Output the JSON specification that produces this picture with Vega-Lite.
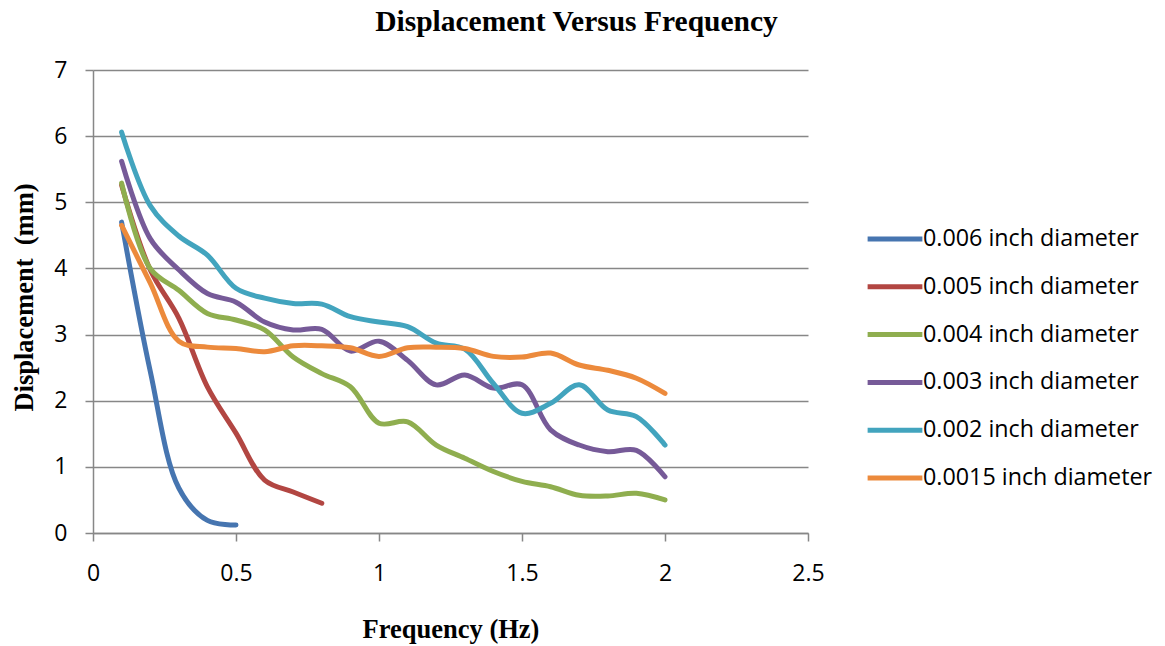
{
  "$schema": "https://vega.github.io/schema/vega-lite/v6.json",
  "width": 715,
  "height": 463,
  "autosize": {"type": "none"},
  "padding": {"left": 93, "top": 70, "right": 357, "bottom": 113},
  "background": "white",
  "title": {
    "text": "Displacement Versus Frequency",
    "font": "Liberation Serif",
    "fontSize": 29.5,
    "fontWeight": "bold",
    "color": "black",
    "anchor": "middle",
    "dx": 126,
    "baseline": "alphabetic",
    "offset": -1
  },
  "datasets": {
    "pts": [
      {"f": 0.1, "d": 4.70, "s": "0.006 inch diameter"},
      {"f": 0.2, "d": 2.45, "s": "0.006 inch diameter"},
      {"f": 0.3, "d": 0.68, "s": "0.006 inch diameter"},
      {"f": 0.4, "d": 0.19, "s": "0.006 inch diameter"},
      {"f": 0.5, "d": 0.12, "s": "0.006 inch diameter"},

      {"f": 0.1, "d": 5.26, "s": "0.005 inch diameter"},
      {"f": 0.2, "d": 3.98, "s": "0.005 inch diameter"},
      {"f": 0.3, "d": 3.25, "s": "0.005 inch diameter"},
      {"f": 0.4, "d": 2.21, "s": "0.005 inch diameter"},
      {"f": 0.5, "d": 1.51, "s": "0.005 inch diameter"},
      {"f": 0.6, "d": 0.80, "s": "0.005 inch diameter"},
      {"f": 0.7, "d": 0.62, "s": "0.005 inch diameter"},
      {"f": 0.8, "d": 0.45, "s": "0.005 inch diameter"},

      {"f": 0.1, "d": 5.29, "s": "0.004 inch diameter"},
      {"f": 0.2, "d": 4.00, "s": "0.004 inch diameter"},
      {"f": 0.3, "d": 3.67, "s": "0.004 inch diameter"},
      {"f": 0.4, "d": 3.32, "s": "0.004 inch diameter"},
      {"f": 0.5, "d": 3.22, "s": "0.004 inch diameter"},
      {"f": 0.6, "d": 3.07, "s": "0.004 inch diameter"},
      {"f": 0.7, "d": 2.66, "s": "0.004 inch diameter"},
      {"f": 0.8, "d": 2.41, "s": "0.004 inch diameter"},
      {"f": 0.9, "d": 2.21, "s": "0.004 inch diameter"},
      {"f": 1.0, "d": 1.66, "s": "0.004 inch diameter"},
      {"f": 1.1, "d": 1.68, "s": "0.004 inch diameter"},
      {"f": 1.2, "d": 1.33, "s": "0.004 inch diameter"},
      {"f": 1.3, "d": 1.13, "s": "0.004 inch diameter"},
      {"f": 1.4, "d": 0.93, "s": "0.004 inch diameter"},
      {"f": 1.5, "d": 0.78, "s": "0.004 inch diameter"},
      {"f": 1.6, "d": 0.70, "s": "0.004 inch diameter"},
      {"f": 1.7, "d": 0.57, "s": "0.004 inch diameter"},
      {"f": 1.8, "d": 0.56, "s": "0.004 inch diameter"},
      {"f": 1.9, "d": 0.60, "s": "0.004 inch diameter"},
      {"f": 2.0, "d": 0.50, "s": "0.004 inch diameter"},

      {"f": 0.1, "d": 5.62, "s": "0.003 inch diameter"},
      {"f": 0.2, "d": 4.45, "s": "0.003 inch diameter"},
      {"f": 0.3, "d": 3.98, "s": "0.003 inch diameter"},
      {"f": 0.4, "d": 3.62, "s": "0.003 inch diameter"},
      {"f": 0.5, "d": 3.49, "s": "0.003 inch diameter"},
      {"f": 0.6, "d": 3.19, "s": "0.003 inch diameter"},
      {"f": 0.7, "d": 3.07, "s": "0.003 inch diameter"},
      {"f": 0.8, "d": 3.08, "s": "0.003 inch diameter"},
      {"f": 0.9, "d": 2.75, "s": "0.003 inch diameter"},
      {"f": 1.0, "d": 2.90, "s": "0.003 inch diameter"},
      {"f": 1.1, "d": 2.61, "s": "0.003 inch diameter"},
      {"f": 1.2, "d": 2.24, "s": "0.003 inch diameter"},
      {"f": 1.3, "d": 2.39, "s": "0.003 inch diameter"},
      {"f": 1.4, "d": 2.19, "s": "0.003 inch diameter"},
      {"f": 1.5, "d": 2.24, "s": "0.003 inch diameter"},
      {"f": 1.6, "d": 1.56, "s": "0.003 inch diameter"},
      {"f": 1.7, "d": 1.33, "s": "0.003 inch diameter"},
      {"f": 1.8, "d": 1.23, "s": "0.003 inch diameter"},
      {"f": 1.9, "d": 1.25, "s": "0.003 inch diameter"},
      {"f": 2.0, "d": 0.85, "s": "0.003 inch diameter"},

      {"f": 0.1, "d": 6.06, "s": "0.002 inch diameter"},
      {"f": 0.2, "d": 4.95, "s": "0.002 inch diameter"},
      {"f": 0.3, "d": 4.49, "s": "0.002 inch diameter"},
      {"f": 0.4, "d": 4.20, "s": "0.002 inch diameter"},
      {"f": 0.5, "d": 3.70, "s": "0.002 inch diameter"},
      {"f": 0.6, "d": 3.55, "s": "0.002 inch diameter"},
      {"f": 0.7, "d": 3.47, "s": "0.002 inch diameter"},
      {"f": 0.8, "d": 3.46, "s": "0.002 inch diameter"},
      {"f": 0.9, "d": 3.27, "s": "0.002 inch diameter"},
      {"f": 1.0, "d": 3.19, "s": "0.002 inch diameter"},
      {"f": 1.1, "d": 3.12, "s": "0.002 inch diameter"},
      {"f": 1.2, "d": 2.87, "s": "0.002 inch diameter"},
      {"f": 1.3, "d": 2.78, "s": "0.002 inch diameter"},
      {"f": 1.4, "d": 2.26, "s": "0.002 inch diameter"},
      {"f": 1.5, "d": 1.81, "s": "0.002 inch diameter"},
      {"f": 1.6, "d": 1.96, "s": "0.002 inch diameter"},
      {"f": 1.7, "d": 2.24, "s": "0.002 inch diameter"},
      {"f": 1.8, "d": 1.86, "s": "0.002 inch diameter"},
      {"f": 1.9, "d": 1.76, "s": "0.002 inch diameter"},
      {"f": 2.0, "d": 1.33, "s": "0.002 inch diameter"},

      {"f": 0.1, "d": 4.65, "s": "0.0015 inch diameter"},
      {"f": 0.2, "d": 3.78, "s": "0.0015 inch diameter"},
      {"f": 0.3, "d": 2.90, "s": "0.0015 inch diameter"},
      {"f": 0.4, "d": 2.81, "s": "0.0015 inch diameter"},
      {"f": 0.5, "d": 2.79, "s": "0.0015 inch diameter"},
      {"f": 0.6, "d": 2.74, "s": "0.0015 inch diameter"},
      {"f": 0.7, "d": 2.83, "s": "0.0015 inch diameter"},
      {"f": 0.8, "d": 2.83, "s": "0.0015 inch diameter"},
      {"f": 0.9, "d": 2.80, "s": "0.0015 inch diameter"},
      {"f": 1.0, "d": 2.67, "s": "0.0015 inch diameter"},
      {"f": 1.1, "d": 2.80, "s": "0.0015 inch diameter"},
      {"f": 1.2, "d": 2.81, "s": "0.0015 inch diameter"},
      {"f": 1.3, "d": 2.79, "s": "0.0015 inch diameter"},
      {"f": 1.4, "d": 2.67, "s": "0.0015 inch diameter"},
      {"f": 1.5, "d": 2.66, "s": "0.0015 inch diameter"},
      {"f": 1.6, "d": 2.72, "s": "0.0015 inch diameter"},
      {"f": 1.7, "d": 2.54, "s": "0.0015 inch diameter"},
      {"f": 1.8, "d": 2.46, "s": "0.0015 inch diameter"},
      {"f": 1.9, "d": 2.34, "s": "0.0015 inch diameter"},
      {"f": 2.0, "d": 2.11, "s": "0.0015 inch diameter"}
    ]
  },
  "data": {"name": "pts"},
  "mark": {"type": "line", "interpolate": "catmull-rom", "strokeWidth": 5, "strokeCap": "round", "strokeJoin": "round"},
  "encoding": {
    "x": {
      "field": "f",
      "type": "quantitative",
      "scale": {"domain": [0, 2.5], "nice": false},
      "axis": {
        "title": "Frequency (Hz)",
        "values": [0, 0.5, 1, 1.5, 2, 2.5],
        "format": "~g",
        "grid": false,
        "domain": true,
        "domainColor": "#878787",
        "domainWidth": 1.5,
        "ticks": true,
        "tickColor": "#878787",
        "tickWidth": 1.5,
        "tickSize": 8,
        "labelFont": "Open Sans",
        "labelFontSize": 23,
        "labelColor": "black",
        "labelPadding": 21,
        "labelFlush": false,
        "titleFont": "Liberation Serif",
        "titleFontSize": 26.5,
        "titleFontWeight": "bold",
        "titleColor": "black",
        "titleBaseline": "alphabetic",
        "titleY": 104,
        "titleX": 357.5,
        "titleAnchor": "middle"
      }
    },
    "y": {
      "field": "d",
      "type": "quantitative",
      "scale": {"domain": [0, 7], "nice": false},
      "axis": {
        "title": "Displacement \u00a0(mm)",
        "values": [0, 1, 2, 3, 4, 5, 6, 7],
        "grid": true,
        "gridColor": "#878787",
        "gridWidth": 1.5,
        "domain": true,
        "domainColor": "#878787",
        "domainWidth": 1.5,
        "ticks": true,
        "tickColor": "#878787",
        "tickWidth": 1.5,
        "tickSize": 8,
        "labelFont": "Open Sans",
        "labelFontSize": 23,
        "labelColor": "black",
        "labelPadding": 18,
        "labelFlush": false,
        "titleFont": "Liberation Serif",
        "titleFontSize": 26.5,
        "titleFontWeight": "bold",
        "titleColor": "black",
        "titleBaseline": "alphabetic",
        "titleX": -61,
        "titleY": 227,
        "titleAngle": -90
      }
    },
    "color": {
      "field": "s",
      "type": "nominal",
      "sort": ["0.006 inch diameter", "0.005 inch diameter", "0.004 inch diameter", "0.003 inch diameter", "0.002 inch diameter", "0.0015 inch diameter"],
      "scale": {
        "domain": ["0.006 inch diameter", "0.005 inch diameter", "0.004 inch diameter", "0.003 inch diameter", "0.002 inch diameter", "0.0015 inch diameter"],
        "range": ["#4675B0", "#B24642", "#8FAE4F", "#765A98", "#42A4BE", "#EC8A3C"]
      },
      "legend": {
        "title": null,
        "orient": "none",
        "legendX": 772,
        "legendY": 139,
        "symbolType": "stroke",
        "symbolSize": 3000,
        "symbolStrokeWidth": 5,
        "labelFont": "Open Sans",
        "labelFontSize": 23.3,
        "labelColor": "black",
        "labelOffset": -2,
        "rowPadding": 5.8,
        "labelLimit": 400
      }
    }
  },
  "config": {
    "view": {"stroke": null}
  }
}
